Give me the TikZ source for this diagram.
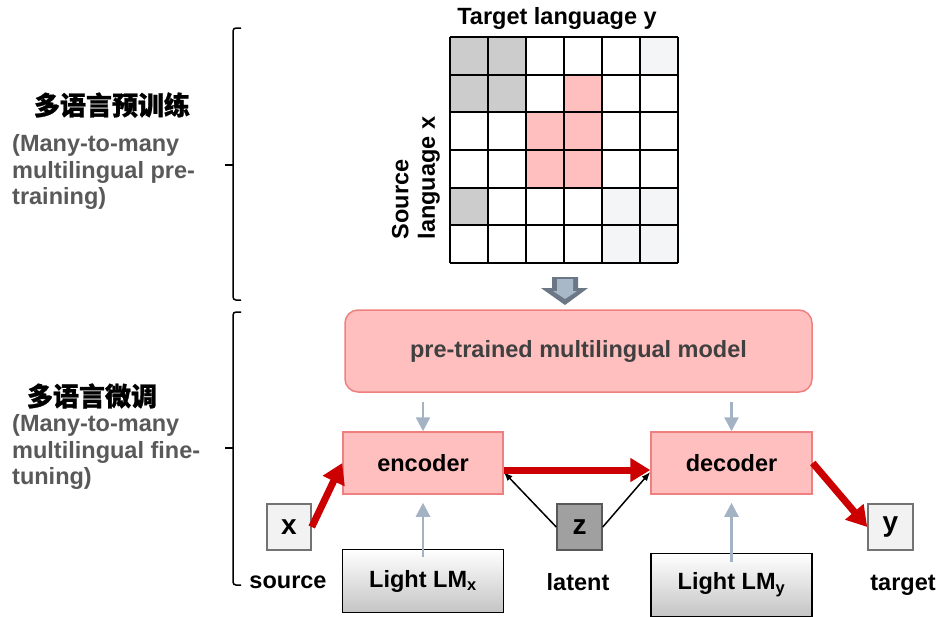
\documentclass[tikz,border=0pt]{standalone}
\usepackage{fontspec}
\setmainfont{Liberation Sans}
\newfontfamily\cjk[BoldFeatures={FakeBold=1.0}]{Noto Sans CJK SC}
\usetikzlibrary{arrows.meta}

\definecolor{pinkfill}{HTML}{FFBFBF}
\definecolor{pinkline}{HTML}{F08080}
\definecolor{cellgray}{HTML}{CCCCCC}
\definecolor{celllight}{HTML}{F4F5F7}
\definecolor{redarrow}{HTML}{CC0000}
\definecolor{steel}{HTML}{A3B3C3}
\definecolor{textgray}{HTML}{595959}
\definecolor{modeltext}{HTML}{404040}
\definecolor{arrowdark}{HTML}{6B7785}
\definecolor{arrowlight}{HTML}{A8B8C8}
\definecolor{boxlight}{HTML}{F2F2F2}
\definecolor{boxgray}{HTML}{A0A0A0}

\begin{document}
\begin{tikzpicture}[x=1pt,y=-1pt,
  lbl/.style={font=\bfseries\fontsize{23.5}{26.5}\selectfont, inner sep=0pt},
  cjklbl/.style={font=\cjk\bfseries\fontsize{26}{30}\selectfont, inner sep=0pt},
  sidenote/.style={lbl, text=textgray, align=left, anchor=west},
  pinkbox/.style={draw=pinkline, fill=pinkfill, line width=1.5pt, lbl},
  lmbox/.style={draw=black, line width=1.5pt, top color=white, bottom color=black!23,
                minimum width=161pt, minimum height=63pt, lbl},
  varbox/.style={draw=black!55, line width=1.5pt, fill=boxlight, minimum width=44pt,
                 minimum height=46pt, font=\bfseries\fontsize{28}{30}\selectfont, inner sep=0pt},
  redarr/.style={draw=redarrow, line width=7pt, -{Triangle[length=20pt,width=23pt]}},
  steelarr/.style={draw=steel, line width=2.5pt, -{Triangle[length=14pt,width=14pt]}},
  thinarr/.style={draw=black, line width=1.5pt, -{Latex[length=9pt,width=7pt]}},
  bracket/.style={draw=black, line width=1.5pt}
]
\useasboundingbox (0,0) rectangle (936,616);
\fill[white] (0,0) rectangle (936,616);

% ---- language-pair matrix ----
\foreach \c/\r/\col in {1/1/cellgray, 2/1/cellgray, 6/1/celllight,
                        1/2/cellgray, 2/2/cellgray, 4/2/pinkfill,
                        3/3/pinkfill, 4/3/pinkfill, 3/4/pinkfill, 4/4/pinkfill,
                        1/5/cellgray, 5/5/celllight, 6/5/celllight,
                        5/6/celllight, 6/6/celllight}
  \fill[\col] ({450+38*(\c-1)},{37+37.667*(\r-1)}) rectangle ++(38,37.667);
\foreach \i in {0,...,6} {
  \draw[line width=2pt] ({450+38*\i},37) -- ({450+38*\i},263);
  \draw[line width=2pt] (450,{37+37.667*\i}) -- (678,{37+37.667*\i});
}
\node[lbl] (tgt) at (557,18) {Target language y};
\node[lbl, rotate=90, align=left] (src) at (416,178) {Source\\language x};

% ---- down arrow into the model ----
\fill[arrowdark] (552,277) -- (578,277) -- (578,288) -- (588,288) -- (565,305)
  -- (541,288) -- (552,288) -- cycle;
\fill[arrowlight] (557,279) -- (573,279) -- (573,291) -- (577,291) -- (565,299)
  -- (553,291) -- (557,291) -- cycle;

% ---- model, encoder, decoder ----
\node[pinkbox, rounded corners=13pt, minimum width=467pt, minimum height=82pt,
      text=modeltext] (model) at (578.5,351) {pre-trained multilingual model};
\node[pinkbox, minimum width=160pt, minimum height=62pt] (enc) at (423,463) {encoder};
\node[pinkbox, minimum width=161pt, minimum height=62pt] (dec) at (731.5,463) {decoder};

\node[lmbox] (lmx) at (423,581) {Light LM\textsubscript{x}};
\node[lmbox] (lmy) at (731.5,585) {Light LM\textsubscript{y}};

\node[varbox] (xbox) at (289,527) {x};
\node[varbox, fill=boxgray, draw=black!65, minimum width=45pt] (zbox) at (579.5,527) {z};
\node[varbox, minimum width=45pt] (ybox) at (890.5,527) {y};

\node[lbl] (srclbl) at (288,582) {source};
\node[lbl] (latlbl) at (578,582) {latent};
\node[lbl] (tgtlbl) at (903,585) {target};

% ---- connectors ----
\coordinate (encin) at (423,402);
\coordinate (decin) at (731.5,402);
\draw[steelarr] (encin) -- (enc.north);
\draw[steelarr] (decin) -- (dec.north);
\draw[steelarr] ([yshift=-8pt]lmx.north) -- ([yshift=-8pt]enc.south);
\draw[steelarr] ([yshift=-9pt]lmy.north) -- ([yshift=-8pt]dec.south);

\draw[thinarr] (zbox.west) -- ([yshift=-9pt]enc.east);
\draw[thinarr] (zbox.east) -- ([yshift=-9pt]dec.west);

\draw[redarr] (xbox.east) -- (enc.west);
\draw[redarr] ([yshift=-7pt]enc.east) -- ([yshift=-7pt]dec.west);
\draw[redarr] (dec.east) -- (ybox.west);

% ---- stage brackets and notes ----
\draw[bracket, rounded corners=3pt] (241,28) -- (233,28) -- (233,300) -- (241,300);
\draw[bracket] (233,165) -- (225,165);
\draw[bracket, rounded corners=3pt] (241,312) -- (233,312) -- (233,585) -- (241,585);
\draw[bracket] (233,448) -- (225,448);

\node[cjklbl] (pre) at (112,105) {多语言预训练};
\node[sidenote] (prenote) at (12,172) {(Many-to-many\\multilingual pre-\\training)};
\node[cjklbl] (fine) at (92,396) {多语言微调};
\node[sidenote] (finenote) at (12,452) {(Many-to-many\\multilingual fine-\\tuning)};
\end{tikzpicture}
\end{document}
